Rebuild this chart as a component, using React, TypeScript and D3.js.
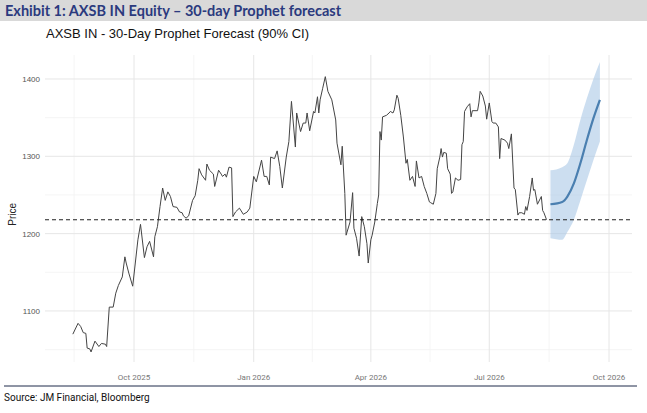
import * as d3 from "d3";

const dates = [
  "2025-08-15","2025-08-19","2025-08-21","2025-08-23","2025-08-25","2025-08-26","2025-08-28","2025-08-29",
  "2025-09-01","2025-09-04","2025-09-06","2025-09-09","2025-09-10","2025-09-12","2025-09-15","2025-09-17",
  "2025-09-19","2025-09-22","2025-09-24","2025-09-25","2025-09-27","2025-09-30","2025-10-02","2025-10-04",
  "2025-10-06","2025-10-09","2025-10-11","2025-10-13","2025-10-16","2025-10-17","2025-10-19","2025-10-21",
  "2025-10-23","2025-10-25","2025-10-27","2025-10-29","2025-10-31","2025-11-03","2025-11-05","2025-11-07",
  "2025-11-08","2025-11-10","2025-11-12","2025-11-15","2025-11-17","2025-11-19","2025-11-20","2025-11-22",
  "2025-11-25","2025-11-26","2025-11-28","2025-12-01","2025-12-02","2025-12-05","2025-12-07","2025-12-08",
  "2025-12-10","2025-12-11","2025-12-13","2025-12-15","2025-12-16","2025-12-18","2025-12-21","2025-12-24",
  "2025-12-27","2025-12-29","2026-01-01","2026-01-03","2026-01-07","2026-01-09","2026-01-11","2026-01-13",
  "2026-01-14","2026-01-17","2026-01-19","2026-01-21","2026-01-23","2026-01-26","2026-01-28","2026-01-30",
  "2026-02-02","2026-02-03","2026-02-06","2026-02-08","2026-02-10","2026-02-11","2026-02-13","2026-02-16",
  "2026-02-17","2026-02-19","2026-02-20","2026-02-21","2026-02-23","2026-02-25","2026-02-27","2026-03-02",
  "2026-03-05","2026-03-06","2026-03-09","2026-03-10","2026-03-12","2026-03-13","2026-03-16","2026-03-18",
  "2026-03-19","2026-03-21","2026-03-23","2026-03-25","2026-03-27","2026-03-29","2026-03-30","2026-04-01",
  "2026-04-02","2026-04-04","2026-04-06","2026-04-07","2026-04-08","2026-04-09","2026-04-10","2026-04-13",
  "2026-04-15","2026-04-16","2026-04-18","2026-04-19","2026-04-21","2026-04-22","2026-04-24","2026-04-26",
  "2026-04-28","2026-04-29","2026-05-01","2026-05-03","2026-05-05","2026-05-06","2026-05-08","2026-05-10",
  "2026-05-12","2026-05-14","2026-05-16","2026-05-17","2026-05-19","2026-05-21","2026-05-22","2026-05-24",
  "2026-05-25","2026-05-26","2026-05-27","2026-05-29","2026-05-30","2026-06-01","2026-06-02","2026-06-03",
  "2026-06-05","2026-06-07","2026-06-09","2026-06-10","2026-06-11","2026-06-12","2026-06-14","2026-06-16",
  "2026-06-17","2026-06-18","2026-06-22","2026-06-23","2026-06-24","2026-06-26","2026-06-28","2026-06-29",
  "2026-07-01","2026-07-03","2026-07-04","2026-07-06","2026-07-08","2026-07-09","2026-07-10","2026-07-13",
  "2026-07-15","2026-07-16","2026-07-18","2026-07-20","2026-07-21","2026-07-23","2026-07-24","2026-07-26",
  "2026-07-28","2026-07-29","2026-07-30","2026-08-01","2026-08-03","2026-08-04","2026-08-05","2026-08-07",
  "2026-08-10","2026-08-11","2026-08-12","2026-08-14",
];

const prices = [
  1070,1084,1080,1072,1071,1052,1051,1047,
  1061,1054,1058,1057,1054,1105,1105,1123,
  1133,1144,1170,1162,1149,1132,1162,1192,
  1212,1169,1183,1190,1170,1196,1209,1235,
  1259,1243,1254,1248,1235,1234,1228,1227,
  1223,1220,1223,1243,1249,1269,1284,1276,
  1269,1290,1282,1277,1261,1282,1277,1274,
  1277,1273,1286,1285,1222,1228,1233,1225,
  1228,1233,1274,1267,1295,1274,1274,1263,
  1299,1297,1307,1287,1259,1299,1319,1371,
  1312,1356,1332,1343,1343,1356,1333,1358,
  1356,1377,1356,1373,1388,1403,1384,1373,
  1347,1317,1289,1313,1252,1198,1215,1253,
  1207,1194,1171,1222,1209,1187,1162,1192,
  1198,1215,1239,1250,1332,1321,1351,1353,
  1356,1358,1356,1360,1379,1375,1353,1325,
  1291,1296,1269,1274,1261,1294,1272,1274,
  1261,1252,1241,1240,1238,1252,1284,1299,
  1310,1299,1305,1304,1284,1277,1252,1254,
  1272,1269,1270,1315,1319,1358,1364,1368,
  1351,1359,1359,1369,1384,1378,1365,1348,
  1369,1345,1343,1343,1338,1297,1323,1321,
  1317,1310,1329,1259,1257,1224,1227,1227,
  1225,1235,1230,1248,1272,1256,1257,1238,
  1248,1230,1227,1218,
];

const forecastDates = ["2026-08-17","2026-08-26","2026-08-30","2026-09-04","2026-09-09","2026-09-14","2026-09-19","2026-09-24"];
const forecastMean = [1238, 1241, 1248, 1265, 1291, 1321, 1349, 1373];
const forecastUpper = [1282, 1286, 1291, 1315, 1347, 1375, 1400, 1422];
const forecastLower = [1194, 1192, 1202, 1218, 1243, 1269, 1295, 1319];

const yTicks = [1100, 1200, 1300, 1400];
const yMinor = [1050, 1150, 1250, 1350];
const xTicks = ["2025-10-01", "2026-01-01", "2026-04-01", "2026-07-01", "2026-10-01"];

const W = 647;
const H = 413;
const L = 45;
const R = 632;
const T = 55;
const B = 362;

export default function App() {
  const parse = d3.timeParse("%Y-%m-%d");
  const x = d3.scaleTime()
    .domain([parse("2025-10-01")!, parse("2026-10-01")!])
    .range([134, 609]);
  const y = d3.scaleLinear().domain([1034, 1431]).range([B, T]);

  const hist = dates.map((d, i) => ({ date: parse(d)!, v: prices[i] }));
  const fc = forecastDates.map((d, i) => ({
    date: parse(d)!, m: forecastMean[i], lo: forecastLower[i], hi: forecastUpper[i],
  }));

  const line = d3.line<{ date: Date; v: number }>().x((d) => x(d.date)).y((d) => y(d.v));
  const meanLine = d3.line<typeof fc[number]>()
    .x((d) => x(d.date)).y((d) => y(d.m)).curve(d3.curveMonotoneX);
  const band = d3.area<typeof fc[number]>()
    .x((d) => x(d.date)).y0((d) => y(d.lo)).y1((d) => y(d.hi)).curve(d3.curveMonotoneX);

  const majorX = xTicks.map((t) => parse(t)!);
  const minorX = [parse("2025-08-16")!, ...majorX.slice(0, -1).map((d, i) =>
    new Date((d.getTime() + majorX[i + 1].getTime()) / 2))];
  const lastPrice = prices[prices.length - 1];
  const fmt = d3.timeFormat("%b %Y");

  return (
    <svg width={W} height={H} style={{ position: "absolute", left: 0, top: 0, background: "#fff" }}>
      <rect x={0} y={0} width={W} height={21} fill="#d9d9d9" />
      <text x={5} y={16} fontFamily="Lato, sans-serif" fontWeight="bold" fontSize={14.5} fill="#2b3a7e">
        Exhibit 1: AXSB IN Equity – 30-day Prophet forecast
      </text>
      <text x={46} y={38} fontFamily="'Liberation Sans', Arial, sans-serif" fontSize={13} fill="#111">
        AXSB IN - 30-Day Prophet Forecast (90% CI)
      </text>

      {yMinor.map((v) => (
        <line key={v} x1={L} x2={R} y1={y(v)} y2={y(v)} stroke="#f2f2f2" strokeWidth={0.8} />
      ))}
      {minorX.map((d, i) => (
        <line key={i} x1={x(d)} x2={x(d)} y1={T} y2={B} stroke="#f2f2f2" strokeWidth={0.8} />
      ))}
      {yTicks.map((v) => (
        <g key={v}>
          <line x1={L} x2={R} y1={y(v)} y2={y(v)} stroke="#e6e6e6" strokeWidth={1} />
          <text x={40} y={y(v) + 3} textAnchor="end" fontFamily="'Liberation Sans', Arial, sans-serif" fontSize={8} fill="#555">{v}</text>
        </g>
      ))}
      {majorX.map((d, i) => (
        <g key={i}>
          <line x1={x(d)} x2={x(d)} y1={T} y2={B} stroke="#e6e6e6" strokeWidth={1} />
          <text x={x(d)} y={380} textAnchor="middle" fontFamily="Roboto, sans-serif" fontSize={8} fill="#777">{fmt(d)}</text>
        </g>
      ))}

      <text transform={`translate(16,${y(1225)}) rotate(-90)`} textAnchor="middle" fontFamily="'Liberation Sans', Arial, sans-serif" fontSize={10} fill="#222">Price</text>

      <path d={band(fc) || ""} fill="#aac8e6" opacity={0.6} />
      <path d={line(hist) || ""} fill="none" stroke="#444" strokeWidth={1} />
      <line x1={L} x2={R} y1={y(lastPrice)} y2={y(lastPrice)} stroke="#222" strokeWidth={1.1} strokeDasharray="4,3" />
      <path d={meanLine(fc) || ""} fill="none" stroke="#4a7fb0" strokeWidth={2.2} />

      <line x1={4} x2={637} y1={386} y2={386} stroke="#1f2a4a" strokeWidth={1} />
      <text x={4} y={401} fontFamily="Roboto, sans-serif" fontSize={10} fill="#111">Source: JM Financial, Bloomberg</text>
    </svg>
  );
}
